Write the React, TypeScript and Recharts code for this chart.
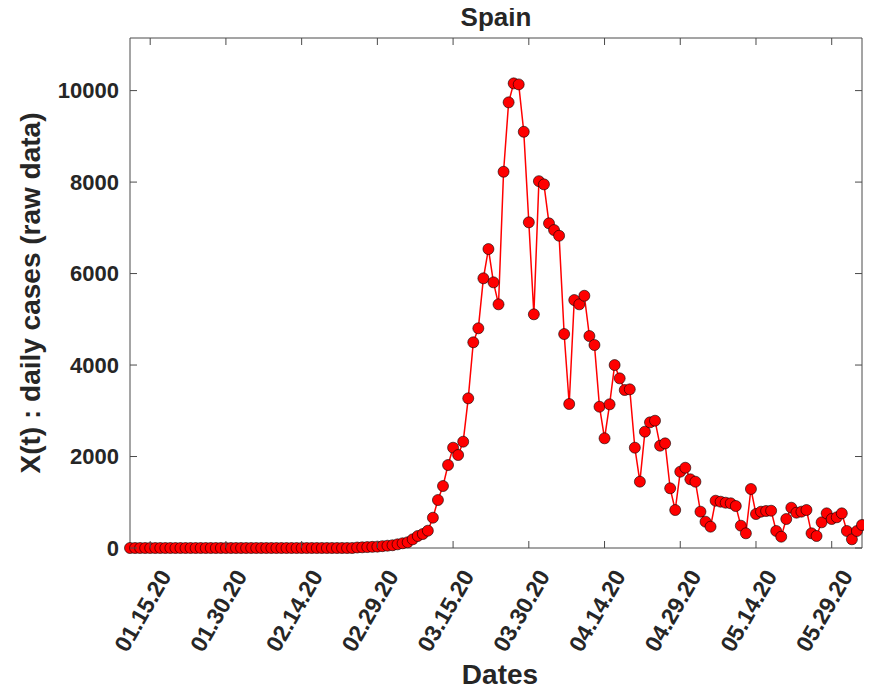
import { LineChart, Line, XAxis, YAxis } from 'recharts';

// daily new cases, one value per day starting 01.11.20
const dailyCases = [
  0, 0, 0, 0, 0, 0, 0, 0, 0, 0,
  0, 0, 0, 0, 0, 0, 0, 0, 0, 0,
  0, 0, 0, 0, 0, 0, 0, 0, 0, 0,
  0, 0, 0, 0, 0, 0, 0, 0, 0, 0,
  0, 0, 0, 0, 0, 10, 15, 20, 25, 30,
  40, 50, 60, 80, 103, 125, 190, 262, 306, 378,
  662, 1049, 1355, 1814, 2193, 2033, 2324, 3272, 4497, 4803,
  5896, 6536, 5808, 5327, 8226, 9743, 10158, 10136, 9100, 7120,
  5109, 8020, 7950, 7098, 6951, 6827, 4678, 3148, 5421, 5327,
  5515, 4634, 4438, 3089, 2398, 3141, 4000, 3709, 3454, 3469,
  2193, 1450, 2543, 2747, 2783, 2236, 2288, 1305, 830, 1668,
  1755, 1502, 1450, 794, 575, 466, 1034, 1012, 990, 977,
  918, 488, 321, 1290, 743, 794, 809, 815, 372, 247,
  634, 881, 772, 794, 831, 321, 262, 561, 758, 634,
  671, 758, 372, 190, 372, 503,
];

const tickDays = [4, 19, 34, 49, 64, 79, 94, 109, 124, 139];
const tickLabels = [
  '01.15.20', '01.30.20', '02.14.20', '02.29.20', '03.15.20',
  '03.30.20', '04.14.20', '04.29.20', '05.14.20', '05.29.20',
];
const yTicks = [0, 2000, 4000, 6000, 8000, 10000];

const data = dailyCases.map((v, i) => ({ day: i, cases: v }));

const FONT = '"Liberation Sans", Arial, Helvetica, sans-serif';
const INK = '#262626';
const FRAME = '#4a4a4a';
const TICK_LEN = 7;

function BottomTick({ x, y, payload }: any) {
  const label = tickLabels[tickDays.indexOf(payload.value)];
  const tx = x + 15;
  const ty = y + 24;
  return (
    <g>
      <line x1={x} y1={y} x2={x} y2={y - TICK_LEN} stroke={FRAME} />
      <text
        x={tx}
        y={ty}
        transform={`rotate(-60, ${tx}, ${ty})`}
        textAnchor="end"
        dominantBaseline="central"
        fontFamily={FONT}
        fontWeight="bold"
        fontSize={23}
        fill={INK}
      >
        {label}
      </text>
    </g>
  );
}

function TopTick({ x, y }: any) {
  return <line x1={x} y1={y} x2={x} y2={y + TICK_LEN} stroke={FRAME} />;
}

function LeftTick({ x, y, payload }: any) {
  return (
    <g>
      <line x1={x} y1={y} x2={x + TICK_LEN} y2={y} stroke={FRAME} />
      <text
        x={x - 11}
        y={y}
        textAnchor="end"
        dominantBaseline="central"
        fontFamily={FONT}
        fontWeight="bold"
        fontSize={22}
        fill={INK}
      >
        {payload.value}
      </text>
    </g>
  );
}

function RightTick({ x, y }: any) {
  return <line x1={x} y1={y} x2={x - TICK_LEN} y2={y} stroke={FRAME} />;
}

export default function App() {
  return (
    <div style={{ position: 'relative', width: 872, height: 691, margin: '-8px 0 0 -8px', background: '#fff' }}>
      <div
        style={{
          position: 'absolute', left: 130, width: 732, top: 2, textAlign: 'center',
          fontFamily: FONT, fontWeight: 'bold', fontSize: 26, color: INK,
        }}
      >
        Spain
      </div>
      <div
        style={{
          position: 'absolute', left: 130, width: 740, top: 659, textAlign: 'center',
          fontFamily: FONT, fontWeight: 'bold', fontSize: 28, color: INK,
        }}
      >
        Dates
      </div>
      <div
        style={{
          position: 'absolute', left: 31, top: 293, width: 0, height: 0,
        }}
      >
        <div
          style={{
            position: 'absolute', transform: 'translate(-50%, -50%) rotate(-90deg)', whiteSpace: 'nowrap',
            fontFamily: FONT, fontWeight: 'bold', fontSize: 28, color: INK,
          }}
        >
          X(t) : daily cases (raw data)
        </div>
      </div>
      <div style={{ position: 'absolute', left: 0, top: 0 }}>
        <LineChart width={872} height={691} data={data} margin={{ top: 37, right: 9, bottom: 0, left: 0 }}>
          <XAxis
            dataKey="day"
            type="number"
            domain={[0, 145]}
            ticks={tickDays}
            interval={0}
            height={143}
            tickSize={0}
            tickMargin={0}
            tickLine={false}
            axisLine={{ stroke: FRAME }}
            tick={<BottomTick />}
          />
          <XAxis
            xAxisId="top"
            orientation="top"
            dataKey="day"
            type="number"
            domain={[0, 145]}
            ticks={tickDays}
            interval={0}
            height={1}
            tickSize={0}
            tickMargin={0}
            tickLine={false}
            axisLine={{ stroke: FRAME }}
            tick={<TopTick />}
          />
          <YAxis
            type="number"
            domain={[0, 11150]}
            ticks={yTicks}
            interval={0}
            width={130}
            tickSize={0}
            tickMargin={0}
            tickLine={false}
            axisLine={{ stroke: FRAME }}
            tick={<LeftTick />}
          />
          <YAxis
            yAxisId="right"
            orientation="right"
            type="number"
            domain={[0, 11150]}
            ticks={yTicks}
            interval={0}
            width={1}
            tickSize={0}
            tickMargin={0}
            tickLine={false}
            axisLine={{ stroke: FRAME }}
            tick={<RightTick />}
          />
          <Line
            xAxisId="top"
            yAxisId="right"
            dataKey="cases"
            stroke="none"
            dot={false}
            activeDot={false}
            isAnimationActive={false}
          />
          <Line
            type="linear"
            dataKey="cases"
            stroke="#ff0000"
            strokeWidth={1.5}
            dot={{ r: 5.5, fill: '#ff0000', stroke: '#000', strokeWidth: 0.6 }}
            activeDot={false}
            isAnimationActive={false}
          />
        </LineChart>
      </div>
    </div>
  );
}
